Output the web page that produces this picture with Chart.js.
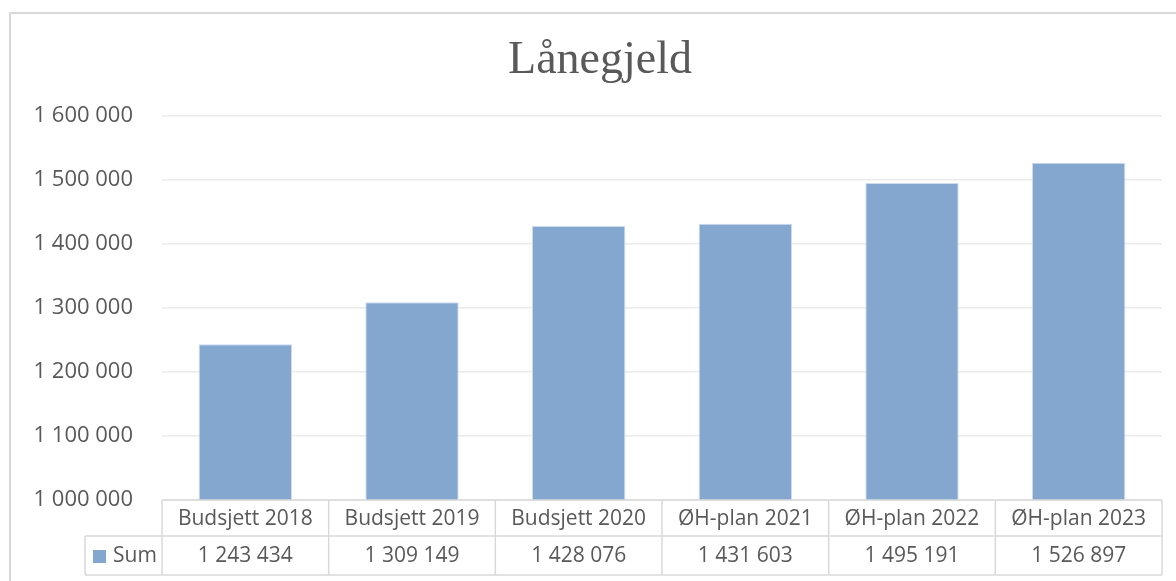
<!DOCTYPE html>
<html>
<head>
<meta charset="utf-8">
<script src="https://cdn.jsdelivr.net/npm/chart.js@4.4.1/dist/chart.umd.min.js"></script>
<style>
html,body{margin:0;padding:0;background:#fff;}
#wrap{width:1176px;height:581px;position:relative;}
</style>
</head>
<body>
<div id="wrap"><canvas id="c" width="1176" height="581"></canvas></div>
<script>
const titleText = "Lånegjeld";
const categories = ["Budsjett 2018","Budsjett 2019","Budsjett 2020","ØH-plan 2021","ØH-plan 2022","ØH-plan 2023"];
const seriesName = "Sum";
const sumValues = [1243434,1309149,1428076,1431603,1495191,1526897];
const yMin = 1000000, yMax = 1600000, yStep = 100000;

const barColor = "rgb(132,167,208)";
const textColor = "#595959";
const lineColor = "#d9d9d9";
const tableFont = "21px 'Open Sans'";

function fmt(v){ return String(Math.round(v)).replace(/\B(?=(\d{3})+(?!\d))/g, " "); }

const tablePlugin = {
  id: 'tablePlugin',
  afterDraw(chart){
    const ctx = chart.ctx;
    const xs = chart.scales.x;
    const area = chart.chartArea;
    const n = categories.length;
    const colW = (area.right - area.left) / n;
    const top = area.bottom, mid = top + 36, bot = mid + 39;
    const legL = 85;
    ctx.save();
    // outer chart border
    ctx.strokeStyle = "#d9d9d9";
    ctx.lineWidth = 2;
    ctx.beginPath();
    ctx.moveTo(10, 600); ctx.lineTo(10, 13); ctx.lineTo(1200, 13);
    ctx.stroke();
    // title
    ctx.fillStyle = textColor;
    ctx.font = "46px 'Liberation Serif'";
    ctx.textAlign = "center"; ctx.textBaseline = "alphabetic";
    ctx.fillText(titleText, 600, 73);
    // table lines
    ctx.strokeStyle = lineColor; ctx.lineWidth = 1.5;
    ctx.beginPath();
    ctx.moveTo(area.left, top); ctx.lineTo(area.right, top);
    ctx.moveTo(legL, mid); ctx.lineTo(area.right, mid);
    ctx.moveTo(legL, bot); ctx.lineTo(area.right, bot);
    ctx.moveTo(legL, mid); ctx.lineTo(legL, bot);
    for (let i = 0; i <= n; i++) {
      const x = area.left + i * colW;
      ctx.moveTo(x, top); ctx.lineTo(x, bot);
    }
    ctx.stroke();
    // texts
    ctx.font = tableFont;
    ctx.fillStyle = textColor;
    ctx.textAlign = "center"; ctx.textBaseline = "middle";
    categories.forEach((c, i) => {
      const x = xs.getPixelForValue(i);
      ctx.fillText(c, x, (top + mid) / 2 + 1);
      ctx.fillText(fmt(sumValues[i]), x, (mid + bot) / 2 + 1);
    });
    // legend key
    ctx.fillStyle = barColor;
    ctx.fillRect(93, 550, 13, 13);
    ctx.fillStyle = textColor;
    ctx.textAlign = "left";
    ctx.fillText(seriesName, 113, (mid + bot) / 2 + 1);
    ctx.restore();
  }
};

new Chart(document.getElementById('c'), {
  type: 'bar',
  data: {
    labels: categories,
    datasets: [{
      label: seriesName,
      data: sumValues,
      backgroundColor: barColor,
      borderColor: "rgba(200,215,235,0.9)",
      borderWidth: 1,
      categoryPercentage: 1,
      barPercentage: 0.56
    }]
  },
  options: {
    responsive: false,
    animation: false,
    layout: { padding: { left: 10, right: 14, top: 116, bottom: 81 } },
    plugins: { legend: { display: false }, title: { display: false }, tooltip: { enabled: false } },
    scales: {
      x: {
        ticks: { display: false },
        grid: { display: false, drawTicks: false },
        border: { display: false },
        afterFit(s){ s.height = 0; }
      },
      y: {
        min: yMin, max: yMax,
        ticks: { stepSize: yStep, color: textColor, font: { family: 'Open Sans', size: 22 }, padding: 29,
          callback: v => fmt(v) },
        grid: { color: "#ececec", lineWidth: 1.5, drawTicks: false },
        border: { display: false },
        afterFit(s){ s.width = 152; }
      }
    }
  },
  plugins: [tablePlugin]
});
</script>
</body>
</html>
